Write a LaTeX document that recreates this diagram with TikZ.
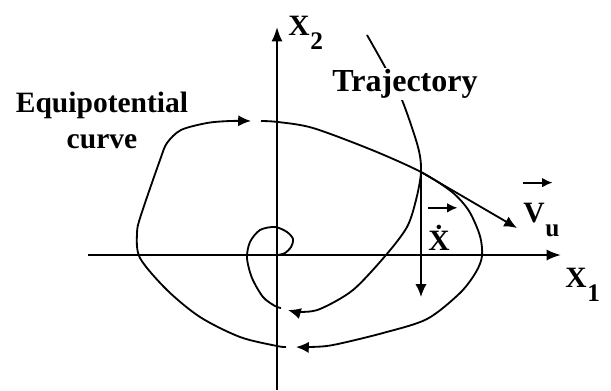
\documentclass[tikz,border=0pt]{standalone}
\usepackage{amsmath}
\usepackage{fontspec}
\setmainfont{Liberation Serif}
\usetikzlibrary{arrows.meta, positioning}

% bogstav med nedsat indeks i fuld stoerrelse
\newcommand{\lowidx}[2]{#1\kern0.5pt\raisebox{-0.5em}{\fontsize{18}{18}\selectfont #2}}

\begin{document}
\begin{tikzpicture}[
    x=0.025cm,
    y=-0.025cm,
    axis/.style={
        -{Latex[length=3.6mm,width=2.8mm]},
        line width=1.5pt
    },
    curv/.style={
        line width=1.3pt
    },
    tipped/.style={
        curv,
        -{Latex[length=3.2mm,width=2.8mm]}
    },
    vecarr/.style={
        -{Latex[length=2.6mm,width=2.4mm]},
        line width=1.3pt
    },
    lbl/.style={
        font=\bfseries\fontsize{21}{25.6}\selectfont,
        align=center
    },
    sym/.style={
        font=\bfseries\fontsize{21}{24}\selectfont,
        anchor=base west,
        inner sep=0pt
    }
]
\useasboundingbox (0,0) rectangle (611,390);

% Akser
\coordinate (O) at (277,255);
\coordinate (xl) at (88,255);
\coordinate (xr) at (561,255);
\coordinate (yb) at (277,390);
\coordinate (yt) at (277,27);

\draw[axis] (xl) -- (xr);
\draw[axis] (yb) -- (yt);

\node[sym] (xone) at (565,287) {\lowidx{X}{1}};
\node[sym] (xtwo) at (288,35) {\lowidx{X}{2}};

% Ekvipotentialkurven, i to stykker
\draw[tipped]
plot[smooth] coordinates {
    (261,121) (278,122) (313,128) (372,150) (421,172)
    (452,192) (469,211) (480,236) (482,256) (476,272)
    (460,293) (427,319) (383,333) (333,345) (310,347)
    (296,347)
};

\draw[tipped]
plot[smooth] coordinates {
    (286,347) (277,346) (240,337) (200,317) (167,290)
    (140,258) (137,233) (141,215) (160,160) (167,143)
    (181,130) (207,123) (230,121) (251,121)
};

% Trajektorien
\coordinate (P) at (421,172);

\draw[tipped]
plot[smooth] coordinates {
    (367,35) (385,67) (402,100) (418,147) (421,172)
    (416,200) (407,227) (386,255) (353,290) (320,309)
    (300,312) (288,310)
};

\draw[curv]
plot[smooth] coordinates {
    (281,308) (275,306) (263,297) (252,278) (247,258)
    (250,242) (260,230) (275,227) (287,232) (293,239)
    (291,247) (285,253) (278,255)
};

% Vektorer i skaeringspunktet
\coordinate (vu) at (517,228);
\coordinate (xd) at (421,297);

\draw[tipped] (P) -- (vu);
\draw[tipped] (P) -- (xd);

\node[sym] (vulab) at (523,222) {\lowidx{V}{u}};
\node[sym] (xdlab) at (428,250) {\.{X}};

\draw[vecarr]
    ([yshift=28pt]vulab.base west) -- ([yshift=28pt,xshift=21pt]vulab.base west);
\draw[vecarr]
    ([yshift=30pt]xdlab.base west) -- ([yshift=30pt,xshift=21pt]xdlab.base west);

% Tekster
\node[lbl, font=\bfseries\fontsize{22.8}{26}\selectfont, fill=white, inner sep=1pt]
    (traj) at (405,84) {Trajectory};
\node[lbl] (equi) at (102,120) {Equipotential\\curve};

\end{tikzpicture}
\end{document}
